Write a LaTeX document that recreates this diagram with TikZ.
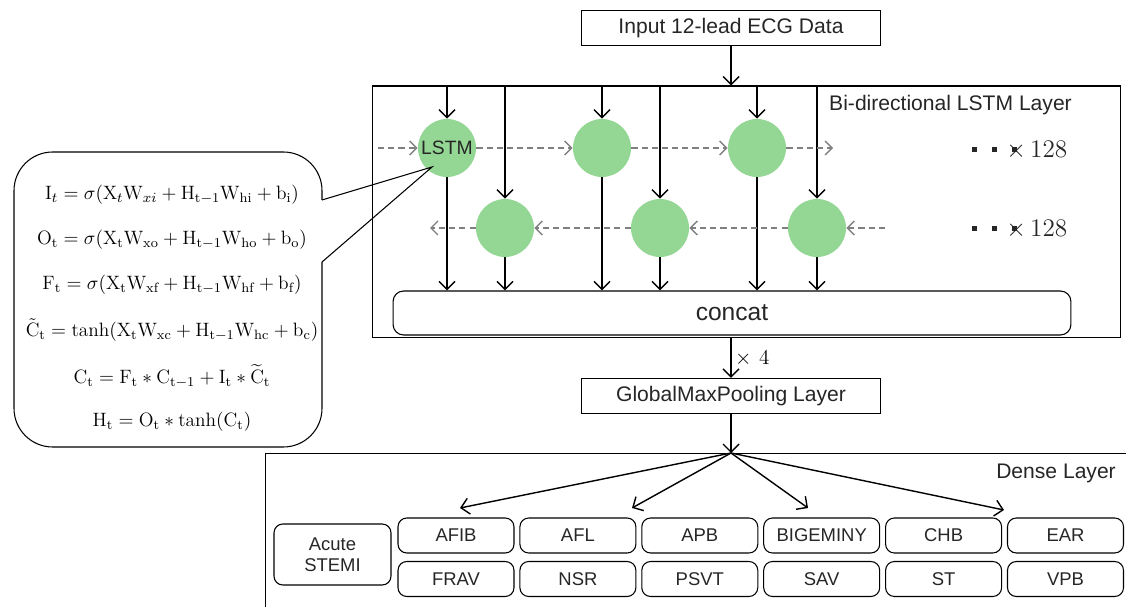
\documentclass[tikz,border=0pt]{standalone}
\usepackage{amsmath}
\usepackage{amssymb}
\usepackage{fontspec}
\newfontfamily\arialfont{Liberation Sans}
\usepackage{tikz}
\usetikzlibrary{positioning,calc,arrows.meta}
\definecolor{lstmgreen}{RGB}{148,214,148}
\definecolor{recurgray}{RGB}{128,128,128}
\newcommand{\sqdot}{\rule[0.45ex]{2.8pt}{2.8pt}}

\begin{document}
\begin{tikzpicture}[x=0.02cm,y=-0.02cm,
	every node/.style={font=\arialfont\fontsize{12}{14}\selectfont, text=black!85},
	layerbox/.style={draw, line width=0.6pt, minimum width=5.98cm, minimum height=0.7cm},
	cell/.style={circle, fill=lstmgreen, minimum size=1.16cm, inner sep=0pt},
	flow/.style={-{Straight Barb[length=1.6mm,width=3.2mm]}, line width=0.8pt},
	recur/.style={-{Straight Barb[length=1.4mm,width=2.8mm]}, dash pattern=on 3.5pt off 2.3pt, line width=0.8pt, draw=recurgray},
	classbox/.style={draw, line width=0.6pt, rounded corners=5pt, minimum width=2.32cm, minimum height=0.7cm, font=\arialfont\fontsize{10.5}{12}\selectfont},
	eqn/.style={font=\rmfamily\fontsize{11}{13}\selectfont, text=black, inner sep=1pt}
]
	\useasboundingbox (0,0) rectangle (1126,607);
	%Nodes
	\node[layerbox] (input) at (731,28) {Input 12-lead ECG Data};
	\node[draw, line width=0.6pt, minimum width=14.98cm, minimum height=5.04cm] (bilstm) at (746.5,212) {};
	\node[anchor=east] (bilstmlbl) at (1078,105) {Bi-directional LSTM Layer};
	\node[cell, font=\arialfont\fontsize{11}{13}\selectfont] (f1) at (447,148) {LSTM};
	\node[cell] (f2) at (602,148) {};
	\node[cell] (f3) at (757,148) {};
	\node[cell] (b1) at (505,228) {};
	\node[cell] (b2) at (660,228) {};
	\node[cell] (b3) at (817,228) {};
	\node[draw, line width=0.6pt, rounded corners=6pt, minimum width=13.56cm, minimum height=0.88cm, font=\arialfont\fontsize{14}{16}\selectfont] (concat) at (732,313) {concat};
	\node[anchor=west] (fdots) at (966,150) {\sqdot\hspace{8.5pt}\sqdot\hspace{8.5pt}\sqdot\hspace{-6pt}{\fontsize{14.5}{16}\selectfont$\times\,128$}};
	\node[anchor=west] (bdots) at (966,229) {\sqdot\hspace{8.5pt}\sqdot\hspace{8.5pt}\sqdot\hspace{-6pt}{\fontsize{14.5}{16}\selectfont$\times\,128$}};
	\node[layerbox] (gmp) at (731,396) {GlobalMaxPooling Layer};
	\node[draw, line width=0.6pt, anchor=north west, minimum width=17.6cm, minimum height=3.4cm] (dense) at (265,453) {};
	\node[anchor=east] (denselbl) at (1122,473) {Dense Layer};
	%Classes
	\node[classbox, minimum width=2.34cm, minimum height=1.22cm, align=center] (stemi) at (332.5,554.5) {Acute\\STEMI};
	\foreach \rowa/\rowb [count=\i from 0] in {AFIB/FRAV, AFL/NSR, APB/PSVT, BIGEMINY/SAV, CHB/ST, EAR/VPB} {
		\node[classbox] (up\i) at ({456+121.9*\i},535.5) {\rowa};
		\node[classbox] (lo\i) at ({456+121.9*\i},579) {\rowb};
	}
	%Equations
	\node[eqn] (eq1) at (172,195) {$\mathrm{I}_t = \sigma(\mathrm{X}_t\mathrm{W}_{xi} + \mathrm{H}_{\mathrm{t-1}}\mathrm{W}_{\mathrm{hi}} + \mathrm{b}_{\mathrm{i}})$};
	\node[eqn] (eq2) at (172,240) {$\mathrm{O_t = \sigma(X_tW_{xo} + H_{t-1}W_{ho} + b_o)}$};
	\node[eqn] (eq3) at (172,285) {$\mathrm{F_t = \sigma(X_tW_{xf} + H_{t-1}W_{hf} + b_f)}$};
	\node[eqn] (eq4) at (172,330) {$\tilde{\mathrm{C}}_{\mathrm{t}} = \mathrm{tanh(X_tW_{xc} + H_{t-1}W_{hc} + b_c)}$};
	\node[eqn] (eq5) at (172,376) {$\mathrm{C_t = F_t \ast C_{t-1} + I_t} \ast \widetilde{\mathrm{C}}_{\mathrm{t}}$};
	\node[eqn] (eq6) at (172,422) {$\mathrm{H_t = O_t \ast tanh(C_t)}$};
	%Callout
	\coordinate (tip) at (432,167);
	\draw[line width=0.6pt, rounded corners=22pt] (322,200) -- (322,152) -- (14,152) -- (14,447) -- (322,447) -- (322,262);
	\draw[line width=0.6pt] (322,200) -- (tip) -- (322,262);
	%Down arrows
	\draw[flow] (input.south) -- (input.south |- bilstm.north);
	\foreach \c in {f1,f2,f3,b1,b2,b3} {
		\draw[flow] (\c |- bilstm.north) -- (\c.north);
		\draw[flow] (\c.south) -- (\c |- concat.north);
	}
	%Recurrent arrows
	\coordinate (fin) at (378,148);
	\coordinate (fout) at (833,148);
	\coordinate (bin) at (885,228);
	\coordinate (bout) at (430,228);
	\draw[recur] (fin) -- (f1.west);
	\draw[recur] (f1.east) -- (f2.west);
	\draw[recur] (f2.east) -- (f3.west);
	\draw[recur] (f3.east) -- (fout);
	\draw[recur] (bin) -- (b3.east);
	\draw[recur] (b3.west) -- (b2.east);
	\draw[recur] (b2.west) -- (b1.east);
	\draw[recur] (b1.west) -- (bout);
	%Pooling and dense
	\draw[flow] (gmp.north |- bilstm.south) -- node[right=1pt, eqn, font=\rmfamily\fontsize{13}{15}\selectfont]{$\times\ 4$} (gmp.north);
	\coordinate (hub) at (gmp.south |- dense.north);
	\draw[flow] (gmp.south) -- (hub);
	\coordinate (t1) at (460,508);
	\coordinate (t2) at (632,508);
	\coordinate (t3) at (808,508);
	\coordinate (t4) at (1004,510);
	\foreach \t in {t1,t2,t3,t4}
		\draw[flow] (hub) -- (\t);
\end{tikzpicture}
\end{document}
